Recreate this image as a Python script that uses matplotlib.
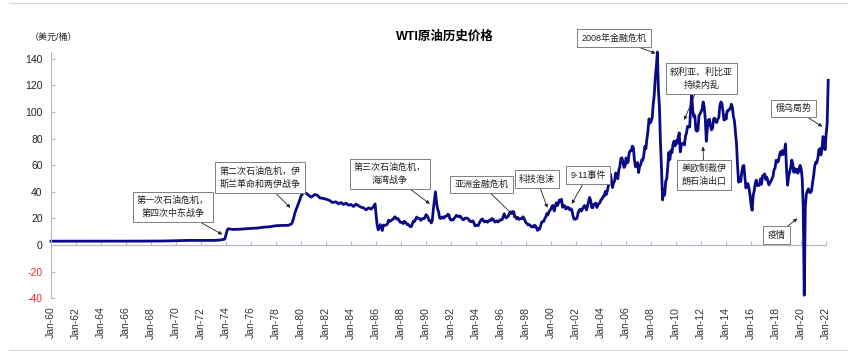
import numpy as np
import matplotlib
matplotlib.use("Agg")
import matplotlib.pyplot as plt
from matplotlib.lines import Line2D
from matplotlib.ticker import FuncFormatter

plt.rcParams['font.family'] = ['Liberation Sans', 'Noto Sans CJK SC', 'DejaVu Sans']
plt.rcParams['axes.unicode_minus'] = False

# ---- data: WTI price, USD/bbl ----
# 1960-1985, irregular dates (fractional year)
early_dates = [1960.0, 1962.0, 1964.0, 1965.0, 1966.0, 1967.0, 1968.0, 1969.0, 1970.0,
               1971.0, 1972.0, 1973.0, 1973.5, 1973.9, 1974.1, 1974.2, 1974.5, 1975.0,
               1975.5, 1976.0, 1976.5, 1977.0, 1977.5, 1978.0, 1978.5, 1979.0, 1979.25,
               1979.4, 1979.5, 1979.7, 1979.9, 1980.0, 1980.2, 1980.4, 1980.6, 1980.8,
               1980.95, 1981.1, 1981.3, 1981.5, 1981.8, 1982.0, 1982.3, 1982.5, 1982.8,
               1983.0, 1983.2, 1983.4, 1983.6, 1983.8, 1984.0, 1984.2, 1984.4, 1984.6,
               1984.8, 1985.0, 1985.2, 1985.4, 1985.6, 1985.8, 1985.92]
early_prices = [2.97, 2.97, 2.97, 2.92, 2.94, 3.0, 3.07, 3.1, 3.35,
                3.56, 3.56, 3.56, 3.8, 4.5, 11.5, 12.3, 11.8, 11.9,
                12.2, 12.6, 12.8, 13.5, 13.8, 14.6, 14.8, 14.9, 16.0,
                20.0, 24.0, 29.0, 34.0, 37.0, 39.5, 39.0, 37.5, 36.0,
                37.0, 38.0, 37.5, 35.5, 35.0, 34.5, 33.5, 32.0, 32.5,
                31.0, 32.0, 30.5, 31.5, 30.0, 30.5, 29.0, 30.8, 29.5,
                28.5, 28.0, 26.5, 28.0, 27.0, 29.0, 31.0]

# monthly from Jan-1986
wti_1986_1995 = [22.9, 15.5, 11.5, 12.8, 15.4, 13.4, 11.0, 15.1, 14.9, 14.9, 15.2, 16.1,
                 18.7, 17.8, 18.3, 18.7, 19.4, 20.1, 21.3, 20.3, 19.5, 19.9, 18.9, 17.3,
                 17.1, 16.8, 16.2, 17.9, 17.4, 16.5, 15.5, 15.5, 14.5, 13.8, 14.1, 16.4,
                 18.0, 17.9, 19.5, 21.1, 20.1, 20.1, 19.8, 18.6, 19.6, 20.1, 19.9, 21.1,
                 22.9, 22.1, 20.4, 18.4, 18.2, 16.7, 18.5, 27.3, 33.5, 40.0, 32.3, 27.3,
                 25.2, 20.5, 19.9, 20.8, 21.2, 20.2, 21.4, 21.7, 21.9, 23.2, 22.5, 19.5,
                 18.8, 19.0, 18.9, 20.2, 21.0, 22.4, 21.8, 21.3, 21.9, 21.7, 20.3, 19.4,
                 19.0, 20.1, 20.3, 20.3, 20.0, 19.1, 17.9, 18.0, 17.5, 18.2, 16.6, 14.5,
                 15.0, 14.8, 14.7, 16.4, 17.9, 19.1, 19.7, 18.4, 17.5, 17.7, 18.1, 17.2,
                 18.0, 18.6, 18.5, 19.9, 19.7, 18.5, 17.3, 18.0, 18.2, 17.4, 18.0, 19.0]
wti_1996_2005 = [18.9, 19.1, 21.3, 23.5, 21.2, 20.4, 21.3, 21.9, 24.0, 24.9, 23.7, 25.2,
                 25.1, 22.2, 21.0, 19.7, 20.8, 19.3, 19.7, 20.0, 19.8, 21.3, 20.2, 18.3,
                 16.7, 16.1, 15.1, 15.4, 14.9, 13.7, 14.2, 13.5, 15.0, 14.5, 13.0, 11.0,
                 12.5, 12.0, 14.7, 17.3, 17.7, 17.9, 20.1, 21.3, 23.8, 22.7, 25.0, 26.1,
                 27.3, 29.4, 29.8, 25.7, 28.8, 31.8, 29.7, 31.3, 33.9, 33.1, 34.4, 28.4,
                 29.6, 29.6, 27.2, 27.5, 28.6, 27.6, 26.4, 27.4, 26.2, 22.2, 19.6, 19.4,
                 19.7, 20.7, 24.5, 26.2, 27.0, 25.5, 27.0, 28.4, 29.7, 28.8, 26.4, 29.5,
                 33.0, 35.8, 33.5, 28.2, 28.1, 30.7, 30.8, 31.6, 28.3, 30.3, 31.1, 32.1,
                 34.3, 34.7, 36.7, 36.8, 40.3, 38.0, 40.8, 44.9, 45.9, 53.3, 48.5, 43.2,
                 46.8, 48.2, 54.2, 53.0, 49.8, 56.4, 59.0, 65.0, 65.6, 62.3, 58.3, 59.4]
wti_2006_2015 = [65.5, 61.6, 62.7, 69.4, 70.8, 71.0, 74.4, 73.0, 63.8, 58.9, 59.1, 62.0,
                 54.5, 59.3, 60.4, 64.0, 63.5, 67.5, 74.1, 72.4, 79.9, 85.8, 94.8, 91.7,
                 93.0, 95.4, 105.5, 112.6, 125.4, 133.9, 145.0, 116.7, 104.1, 76.6, 57.3, 33.9,
                 41.7, 37.5, 47.9, 49.7, 59.0, 69.6, 64.2, 71.1, 69.4, 75.7, 78.0, 74.5,
                 78.3, 76.4, 81.2, 84.3, 70.0, 75.3, 76.3, 76.6, 75.2, 81.9, 84.3, 89.2,
                 89.2, 88.6, 102.9, 113.0, 100.9, 96.3, 97.3, 86.3, 85.5, 86.3, 97.2, 98.6,
                 100.3, 102.2, 107.5, 103.3, 94.7, 78.0, 87.9, 94.1, 94.5, 89.5, 86.5, 87.9,
                 94.8, 95.3, 92.9, 92.0, 94.5, 95.8, 104.7, 107.5, 106.3, 100.5, 93.9, 97.6,
                 94.6, 100.8, 100.8, 102.1, 102.2, 105.8, 103.6, 96.5, 93.2, 84.4, 75.8, 59.3,
                 47.2, 50.6, 47.8, 54.5, 59.3, 59.8, 50.9, 42.9, 45.5, 46.2, 42.4, 37.2]
wti_2016_2022 = [30.0, 26.2, 37.6, 40.8, 46.7, 48.8, 44.7, 44.7, 45.2, 49.8, 45.7, 52.0,
                 52.5, 53.5, 49.3, 51.1, 48.5, 45.2, 46.6, 48.0, 49.8, 51.6, 56.6, 57.9,
                 63.7, 62.2, 62.7, 66.3, 70.0, 67.9, 71.0, 68.1, 70.2, 76.0, 57.0, 45.0,
                 51.4, 55.0, 58.2, 63.9, 60.8, 54.7, 57.4, 54.8, 57.0, 54.0, 57.0, 59.9,
                 57.5, 50.5, 29.2, -37.6, 28.6, 38.3, 40.7, 42.3, 39.6, 39.4, 40.9, 47.0,
                 52.0, 59.0, 62.3, 61.7, 65.2, 71.4, 72.5, 67.7, 71.7, 81.5, 79.2, 71.7,
                 83.2, 91.6, 123.7]

# annotation labels and the (year, price) they point at
event_labels = ['第一次石油危机，\n第四次中东战争', '第二次石油危机，伊\n斯兰革命和两伊战争',
                '第三次石油危机，\n海湾战争', '亚洲金融危机', '科技泡沫', '9·11事件',
                '2008年金融危机', '叙利亚、利比亚\n持续内乱', '美欧制裁伊\n朗石油出口',
                '俄乌局势', '疫情']
event_x = [1973.7, 1979.15, 1990.3, 1997.25, 1999.7, 2001.65, 2008.35, 2010.65, 2012.15, 2021.7, 2019.7]
event_y = [8, 28, 31, 20, 28, 31, 144, 94, 74, 89, 20]
# box centres, figure fraction
box_pos = [(0.2021, 0.4169), (0.3037, 0.500), (0.4556, 0.5099), (0.5625, 0.4803),
           (0.6273, 0.4958), (0.6869, 0.507), (0.7173, 0.893), (0.8195, 0.7789),
           (0.8224, 0.507), (0.927, 0.6944), (0.9071, 0.338)]

monthly = wti_1986_1995 + wti_1996_2005 + wti_2006_2015 + wti_2016_2022
monthly_dates = 1986 + np.arange(len(monthly)) / 12.0
dates = np.concatenate([early_dates, monthly_dates])
prices = np.concatenate([early_prices, monthly])

ymin, ymax = -40, 145

fig = plt.figure(figsize=(8.56, 3.55), dpi=100)
ax = fig.add_axes([0.0596, 0.1594, 0.9055, 0.6941])

ax.plot(dates, prices, color='#0a0a86', lw=2.0, clip_on=False, solid_joinstyle='round')

ax.set_xlim(1960, 2022)
ax.set_ylim(ymin, ymax)
for s in ['top', 'right', 'bottom']:
    ax.spines[s].set_visible(False)
ax.spines['left'].set_color('#b8b8b8')
ax.spines['left'].set_linewidth(0.8)

yt = np.arange(-40, 141, 20)
ax.set_yticks(yt)
ax.set_yticklabels([str(v) for v in yt])
ax.tick_params(axis='y', direction='in', length=3, color='#b8b8b8', labelsize=7.5, pad=6)
for lab, v in zip(ax.get_yticklabels(), yt):
    lab.set_color('#ff2020' if v < 0 else '#222222')

years = np.arange(1960, 2023, 2)
ax.set_xticks(years)
ax.xaxis.set_major_formatter(FuncFormatter(lambda v, p: 'Jan-%02d' % (int(round(v)) % 100)))
ax.tick_params(axis='x', length=0, labelsize=7.5, labelcolor='#333333', pad=6)
plt.setp(ax.get_xticklabels(), rotation=90)

# zero line with its own small ticks
zero = ax.secondary_xaxis((0 - ymin) / (ymax - ymin))
zero.set_xticks(years)
zero.tick_params(axis='x', direction='in', length=3, color='#b8b8c8', labelbottom=False)
zero.spines['bottom'].set_color('#b8b8c8')
zero.spines['bottom'].set_linewidth(0.9)

for lab, x, y, pos in zip(event_labels, event_x, event_y, box_pos):
    ax.annotate(lab, xy=(x, y), xycoords='data', xytext=pos, textcoords='figure fraction',
                ha='center', va='center', fontsize=6.5, color='#222222', linespacing=1.5,
                bbox=dict(boxstyle='square,pad=0.45', fc='white', ec='#7f7f7f', lw=0.7),
                arrowprops=dict(arrowstyle='-|>', color='#222222', lw=0.6,
                                mutation_scale=5, shrinkA=0, shrinkB=0),
                annotation_clip=False)

fig.text(0.52, 0.8958, 'WTI原油历史价格', ha='center', va='center', fontsize=9, fontweight='bold')
fig.text(0.035, 0.8958, '（美元/桶）', ha='left', va='center', fontsize=6.5, color='#222222')

fig.add_artist(Line2D([0.01, 0.99], [0.992, 0.992], color='#d8d8d8', lw=0.8))
fig.add_artist(Line2D([0.01, 0.99], [0.014, 0.014], color='#d8d8d8', lw=0.8))

fig.savefig('out.png', dpi=100)
